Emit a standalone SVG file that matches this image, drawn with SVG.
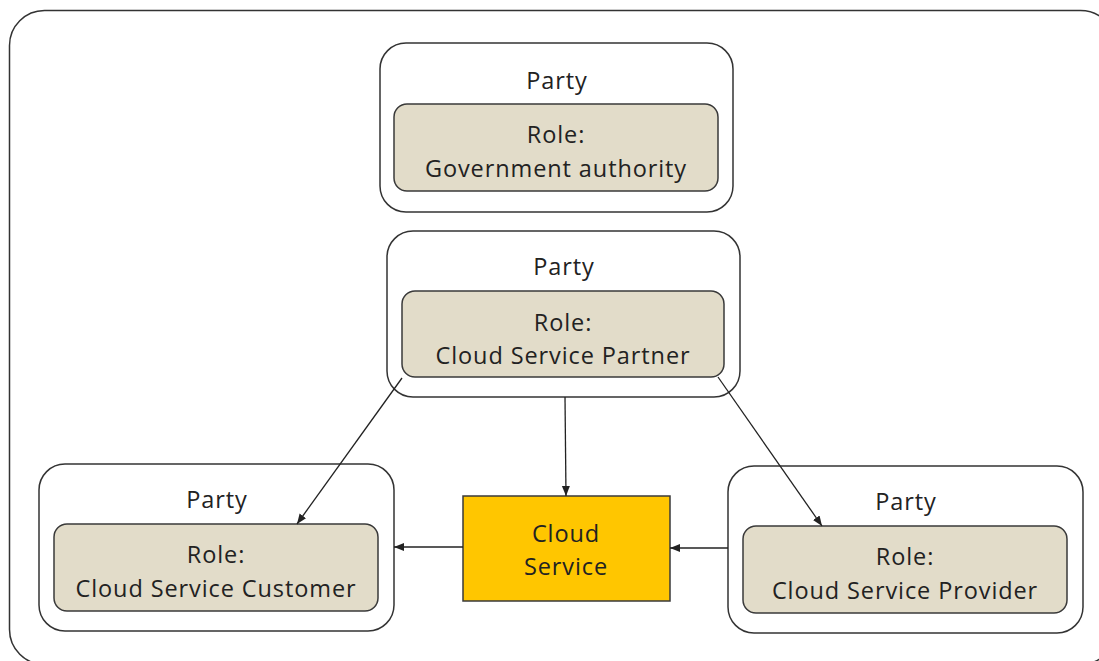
<svg xmlns="http://www.w3.org/2000/svg" width="1099" height="661" viewBox="0 0 1099 661">
<style>
.frame{fill:#fff;stroke:#333;stroke-width:1.5}
.party{fill:#fff;stroke:#333;stroke-width:1.5}
.role{fill:#e2dcc9;stroke:#3a3a3a;stroke-width:1.5}
.cs{fill:#ffc600;stroke:#3a3a3a;stroke-width:1.5}
text{font-family:"Open Sans","Liberation Sans",sans-serif;font-size:23.5px;letter-spacing:0.9px;fill:#222;text-anchor:middle}
.conn{stroke:#222;stroke-width:1.3;fill:none;marker-end:url(#arr)}
</style>
<defs>
<marker id="arr" viewBox="0 0 10 10" refX="10" refY="5" markerWidth="10" markerHeight="10" markerUnits="userSpaceOnUse" orient="auto">
<path d="M0,1 L10,5 L0,9 Z" fill="#222"/>
</marker>
</defs>
<rect class="frame" x="9.5" y="10.5" width="1106" height="654" rx="35"/>
<g id="party-gov">
<rect class="party" x="380" y="43" width="353" height="169" rx="26"/>
<text x="557" y="89">Party</text>
<rect class="role" x="394" y="104" width="324" height="87" rx="13"/>
<text x="556" y="143">Role:</text>
<text x="556" y="177">Government authority</text>
</g>
<g id="party-partner">
<rect class="party" x="387" y="231" width="353" height="166" rx="26"/>
<text x="564" y="275">Party</text>
<rect class="role" x="402" y="291" width="322" height="86" rx="13"/>
<text x="563" y="331">Role:</text>
<text x="563" y="364">Cloud Service Partner</text>
</g>
<g id="party-customer">
<rect class="party" x="39" y="464" width="355" height="167" rx="26"/>
<text x="217" y="508">Party</text>
<rect class="role" x="54" y="524" width="324" height="87" rx="13"/>
<text x="216" y="563">Role:</text>
<text x="216" y="597">Cloud Service Customer</text>
</g>
<g id="party-provider">
<rect class="party" x="728" y="466" width="355" height="167" rx="26"/>
<text x="906" y="510">Party</text>
<rect class="role" x="743" y="526" width="324" height="87" rx="13"/>
<text x="905" y="565">Role:</text>
<text x="905" y="599">Cloud Service Provider</text>
</g>
<g id="cloud-service">
<rect class="cs" x="463" y="496" width="207" height="105"/>
<text x="566" y="542">Cloud</text>
<text x="566" y="575">Service</text>
</g>
<g id="connectors">
<line class="conn" x1="565" y1="397" x2="566" y2="496"/>
<line class="conn" x1="402" y1="378" x2="297" y2="524"/>
<line class="conn" x1="718" y1="377" x2="822" y2="526"/>
<line class="conn" x1="728" y1="548" x2="670" y2="548"/>
<line class="conn" x1="463" y1="547" x2="394" y2="547"/>
</g>
</svg>
